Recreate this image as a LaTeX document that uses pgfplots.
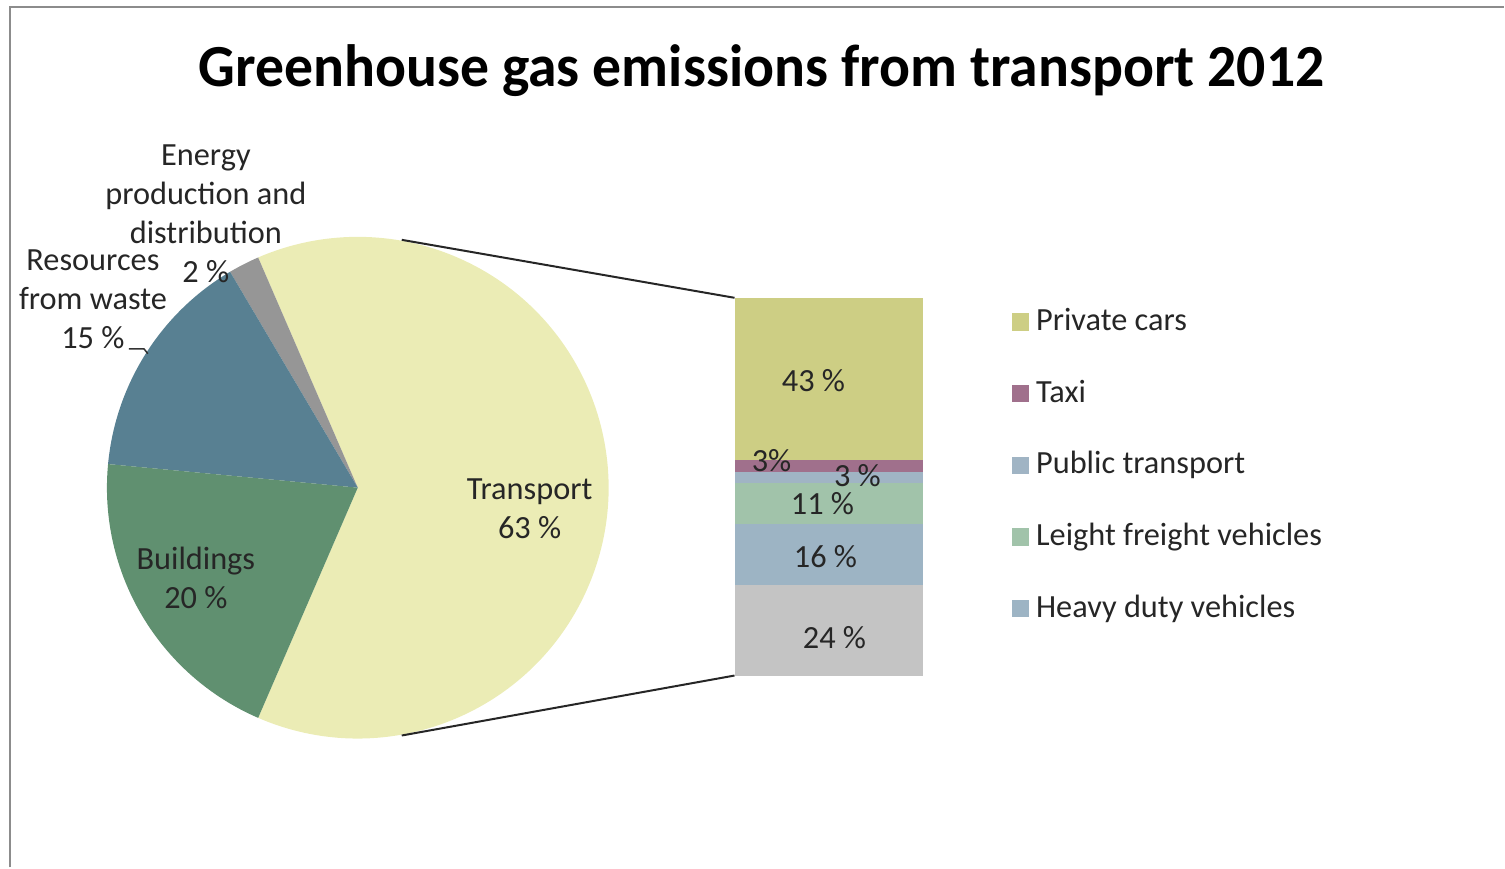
\documentclass[border=0pt]{standalone}
\usepackage{pgfplots}
\pgfplotsset{compat=1.18}
\usepackage{pgfplotstable}
\usepackage{fontspec}
\setmainfont{Carlito}

\definecolor{cTransport}{RGB}{235,236,181}
\definecolor{cEnergy}{RGB}{150,150,150}
\definecolor{cResources}{RGB}{88,128,146}
\definecolor{cBuildings}{RGB}{96,144,112}
\definecolor{cPrivate}{RGB}{205,206,132}
\definecolor{cTaxi}{RGB}{160,112,140}
\definecolor{cPublic}{RGB}{160,180,196}
\definecolor{cFreight}{RGB}{161,195,170}
\definecolor{cHeavy}{RGB}{157,180,196}
\definecolor{cOther}{RGB}{196,196,196}
\definecolor{txt}{RGB}{38,38,38}

\pgfplotstableread{
name value
Transport 63
Energy 2
Resources 15
Buildings 20
}\piedata

\newcommand\lbl{\fontsize{9.2}{11.1}\selectfont}

\begin{document}
\begin{tikzpicture}[x=1cm,y=1cm]
\path (0,0) rectangle (15.05,8.68);
\draw[black!45, line width=0.02cm] (0.10,0) -- (0.10,8.61) -- (15.05,8.61);

\node[font=\bfseries\fontsize{17}{20}\selectfont, text=black, xscale=0.966] at (7.62,7.97) {Greenhouse gas emissions from transport 2012};

% pie
\begin{axis}[hide axis, x=2.51cm, y=2.51cm, xmin=-1, xmax=1, ymin=-1, ymax=1,
  at={(3.58cm,3.80cm)}, anchor=origin, clip=false]
\pgfplotsextra{
  \gdef\cum{-113.4}
  \foreach \i/\col in {0/cTransport,1/cEnergy,2/cResources,3/cBuildings}{
    \pgfplotstablegetelem{\i}{value}\of\piedata
    \pgfmathsetmacro\b{\cum+3.6*\pgfplotsretval}
    \fill[\col] (axis cs:0,0) -- (axis cs:{cos(\cum)},{sin(\cum)}) arc[start angle=\cum, end angle=\b, radius=2.51cm] -- cycle;
    \xdef\cum{\b}
  }
}
\end{axis}

\begin{scope}[font=\lbl, text=txt]
\node[align=center] at (5.30,3.59) {Transport\\63 \%};
\node[align=center] at (1.96,2.90) {Buildings\\20 \%};
\node[align=center] at (0.93,5.69) {Resources\\from waste\\15 \%};
\node[align=center] at (2.06,6.545) {Energy\\production and\\distribution\\2 \%};
\end{scope}
\draw[black!80, line width=0.015cm] (1.29,5.19) -- (1.44,5.19) -- (1.48,5.14);

% connectors
\draw[black!85, line width=0.02cm] (4.02,6.28) -- (7.35,5.70);
\draw[black!85, line width=0.02cm] (4.02,1.32) -- (7.35,1.92);

% bar of pie
\begin{axis}[hide axis, ybar stacked, at={(7.35cm,1.92cm)}, anchor=south west,
  scale only axis, width=1.89cm, height=3.78cm, xmin=-0.5, xmax=0.5,
  ymin=0, ymax=100, bar width=1.89cm, clip=false,
  legend cell align=left,
  legend style={draw=none, fill=none, at={(1.408,1.011)}, anchor=north west,
    row sep=0.30cm, text=txt, font=\lbl}]
\addplot[fill=cOther, draw=none, forget plot] coordinates {(0,24)};
\addplot[fill=cHeavy, draw=none, forget plot] coordinates {(0,16)};
\addplot[fill=cFreight, draw=none, forget plot] coordinates {(0,11)};
\addplot[fill=cPublic, draw=none, forget plot] coordinates {(0,3)};
\addplot[fill=cTaxi, draw=none, forget plot] coordinates {(0,3)};
\addplot[fill=cPrivate, draw=none, forget plot] coordinates {(0,43)};
\addlegendimage{legend image code/.code={\fill[cPrivate] (0cm,-0.08cm) rectangle (0.16cm,0.08cm);}}
\addlegendentry{Private cars}
\addlegendimage{legend image code/.code={\fill[cTaxi] (0cm,-0.08cm) rectangle (0.16cm,0.08cm);}}
\addlegendentry{Taxi}
\addlegendimage{legend image code/.code={\fill[cPublic] (0cm,-0.08cm) rectangle (0.16cm,0.08cm);}}
\addlegendentry{Public transport}
\addlegendimage{legend image code/.code={\fill[cFreight] (0cm,-0.08cm) rectangle (0.16cm,0.08cm);}}
\addlegendentry{Leight freight vehicles}
\addlegendimage{legend image code/.code={\fill[cHeavy] (0cm,-0.08cm) rectangle (0.16cm,0.08cm);}}
\addlegendentry{Heavy duty vehicles}
\end{axis}

% bar value labels
\begin{scope}[font=\lbl, text=txt]
\node at (8.14,4.87) {43 \%};
\node at (7.72,4.07) {3\%};
\node at (8.58,3.92) {3 \%};
\node at (8.23,3.64) {11 \%};
\node at (8.26,3.11) {16 \%};
\node at (8.35,2.30) {24 \%};
\end{scope}
\end{tikzpicture}
\end{document}
